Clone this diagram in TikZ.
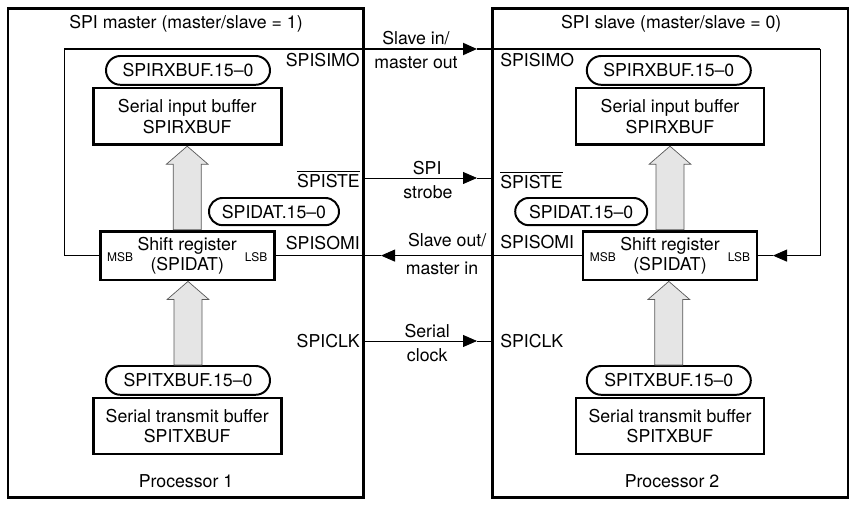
\documentclass[tikz,border=0pt]{standalone}
\usepackage{amsmath}
\usepackage{fontspec}
\setmainfont{TeX Gyre Heros}
\usetikzlibrary{positioning, arrows.meta, calc, shapes.misc}
\tikzset{
  procbox/.style={draw, line width=2pt},
  regbox/.style={draw, line width=2pt, fill=white, align=center, inner sep=0pt},
  pill/.style={draw, rounded rectangle, line width=1.4pt, fill=white, inner sep=0pt, minimum height=0.72cm},
  pinlbl/.style={inner sep=0pt},
  bitlbl/.style={inner sep=0pt, font=\fontsize{8.5}{10}\selectfont},
  sig/.style={line width=0.6pt},
  bus/.style={line width=1.4pt},
  tip/.style={-{Triangle[length=3.5mm, width=3mm]}},
  fatarr/.style={fill=black!10, draw=black!65, line width=0.5pt}
}
% wide grey transfer arrow between two registers
\newcommand{\bigarrow}[2]{%
  \filldraw[fatarr] let \p1=(#1), \p2=(#2) in
    (\x1-0.35cm,\y1) -- (\x1-0.35cm,\y2-0.45cm) -- (\x1-0.52cm,\y2-0.45cm) -- (\x1,\y2)
    -- (\x1+0.52cm,\y2-0.45cm) -- (\x1+0.35cm,\y2-0.45cm) -- (\x1+0.35cm,\y1) -- cycle;}

\begin{document}
\begin{tikzpicture}[font=\fontsize{12.6}{14.5}\selectfont]
  \useasboundingbox (0,0) rectangle (21.5,12.65);

  % processors
  \node[procbox, minimum width=8.88cm, minimum height=12.21cm] (proc1) at (4.64,6.325) {};
  \node[procbox, minimum width=8.88cm, minimum height=12.21cm] (proc2) at (16.76,6.325) {};
  \node (title1) at (4.65,12.05) {SPI master (master/slave = 1)};
  \node (title2) at (16.78,12.05) {SPI slave (master/slave = 0)};
  \node (cpu1) at (4.65,0.625) {Processor 1};
  \node (cpu2) at (16.8,0.625) {Processor 2};

  % master registers
  \node[pill, minimum width=4.1cm] (rxbitsM) at (4.7,10.89) {SPIRXBUF.15--0};
  \node[regbox, minimum width=4.7cm, minimum height=1.42cm] (rxM) at (4.68,9.74) {Serial input buffer\\SPIRXBUF};
  \node[pill, minimum width=3.25cm, minimum height=0.68cm] (datbitsM) at (6.85,7.36) {SPIDAT.15--0};
  \node[regbox, minimum width=4.35cm, minimum height=1.22cm] (shiftM) at (4.68,6.26) {Shift register\\(SPIDAT)};
  \node[bitlbl, anchor=west] (msbM) at ([xshift=2mm, yshift=-0.5mm]shiftM.west) {MSB};
  \node[bitlbl, anchor=east] (lsbM) at ([xshift=-2mm, yshift=-0.5mm]shiftM.east) {LSB};
  \node[pill, minimum width=4.1cm] (txbitsM) at (4.7,3.14) {SPITXBUF.15--0};
  \node[regbox, minimum width=4.7cm, minimum height=1.4cm] (txM) at (4.68,2.0) {Serial transmit buffer\\SPITXBUF};

  % slave registers
  \node[pill, minimum width=4.1cm] (rxbitsS) at (16.72,10.89) {SPIRXBUF.15--0};
  \node[regbox, minimum width=4.7cm, minimum height=1.42cm] (rxS) at (16.75,9.74) {Serial input buffer\\SPIRXBUF};
  \node[pill, minimum width=3.3cm, minimum height=0.68cm] (datbitsS) at (14.53,7.36) {SPIDAT.15--0};
  \node[regbox, minimum width=4.35cm, minimum height=1.22cm] (shiftS) at (16.75,6.26) {Shift register\\(SPIDAT)};
  \node[bitlbl, anchor=west] (msbS) at ([xshift=2mm, yshift=-0.5mm]shiftS.west) {MSB};
  \node[bitlbl, anchor=east] (lsbS) at ([xshift=-2mm, yshift=-0.5mm]shiftS.east) {LSB};
  \node[pill, minimum width=4.1cm] (txbitsS) at (16.72,3.14) {SPITXBUF.15--0};
  \node[regbox, minimum width=4.7cm, minimum height=1.4cm] (txS) at (16.75,2.0) {Serial transmit buffer\\SPITXBUF};

  \bigarrow{shiftM.north}{rxM.south}
  \bigarrow{txbitsM.north}{shiftM.south}
  \bigarrow{shiftS.north}{rxS.south}
  \bigarrow{txbitsS.north}{shiftS.south}

  % pins
  \node[pinlbl, anchor=east] (simoM) at (9.0,11.15) {SPISIMO};
  \node[pinlbl, anchor=east] (steM) at (9.0,8.17) {$\overline{\text{SPISTE}}$};
  \node[pinlbl, anchor=east] (somiM) at (9.0,6.58) {SPISOMI};
  \node[pinlbl, anchor=east] (clkM) at (9.0,4.125) {SPICLK};
  \node[pinlbl, anchor=west] (simoS) at (12.5,11.15) {SPISIMO};
  \node[pinlbl, anchor=west] (steS) at (12.5,8.15) {$\overline{\text{SPISTE}}$};
  \node[pinlbl, anchor=west] (somiS) at (12.5,6.6) {SPISOMI};
  \node[pinlbl, anchor=west] (clkS) at (12.5,4.125) {SPICLK};

  % signal names
  \node (simoTop) at (10.4,11.7) {Slave in/};
  \node (simoBot) at (10.4,11.075) {master out};
  \node (steTop) at (10.68,8.45) {SPI};
  \node (steBot) at (10.7,7.85) {strobe};
  \node (somiTop) at (11.18,6.65) {Slave out/};
  \node (somiBot) at (11.05,5.95) {master in};
  \node (clkTop) at (10.68,4.375) {Serial};
  \node (clkBot) at (10.68,3.775) {clock};

  % connections
  \coordinate (loopM) at (1.6,11.425);
  \coordinate (loopS) at (20.5,11.425);
  \coordinate (simoTip) at (11.925,11.425);
  \coordinate (retTip) at (19.325,6.26);
  \coordinate (steTip) at (11.925,8.2);
  \coordinate (somiTip) at (9.525,6.26);
  \coordinate (clkTip) at (11.925,4.125);
  \draw[sig] (shiftM.west) -| (loopM);
  \draw[bus, tip] (loopM) -- (simoTip);
  \draw[bus] (simoTip) -- (loopS);
  \draw[sig, tip] (loopS) |- (retTip);
  \draw[sig] (retTip) -- (shiftS.east);
  \draw[sig, tip] (proc1.east |- steTip) -- (steTip);
  \draw[sig] (steTip) -- (proc2.west |- steTip);
  \draw[sig, tip] (shiftS.west) -- (somiTip);
  \draw[sig] (somiTip) -- (shiftM.east);
  \draw[sig, tip] (proc1.east |- clkTip) -- (clkTip);
  \draw[sig] (clkTip) -- (proc2.west |- clkTip);
\end{tikzpicture}
\end{document}
